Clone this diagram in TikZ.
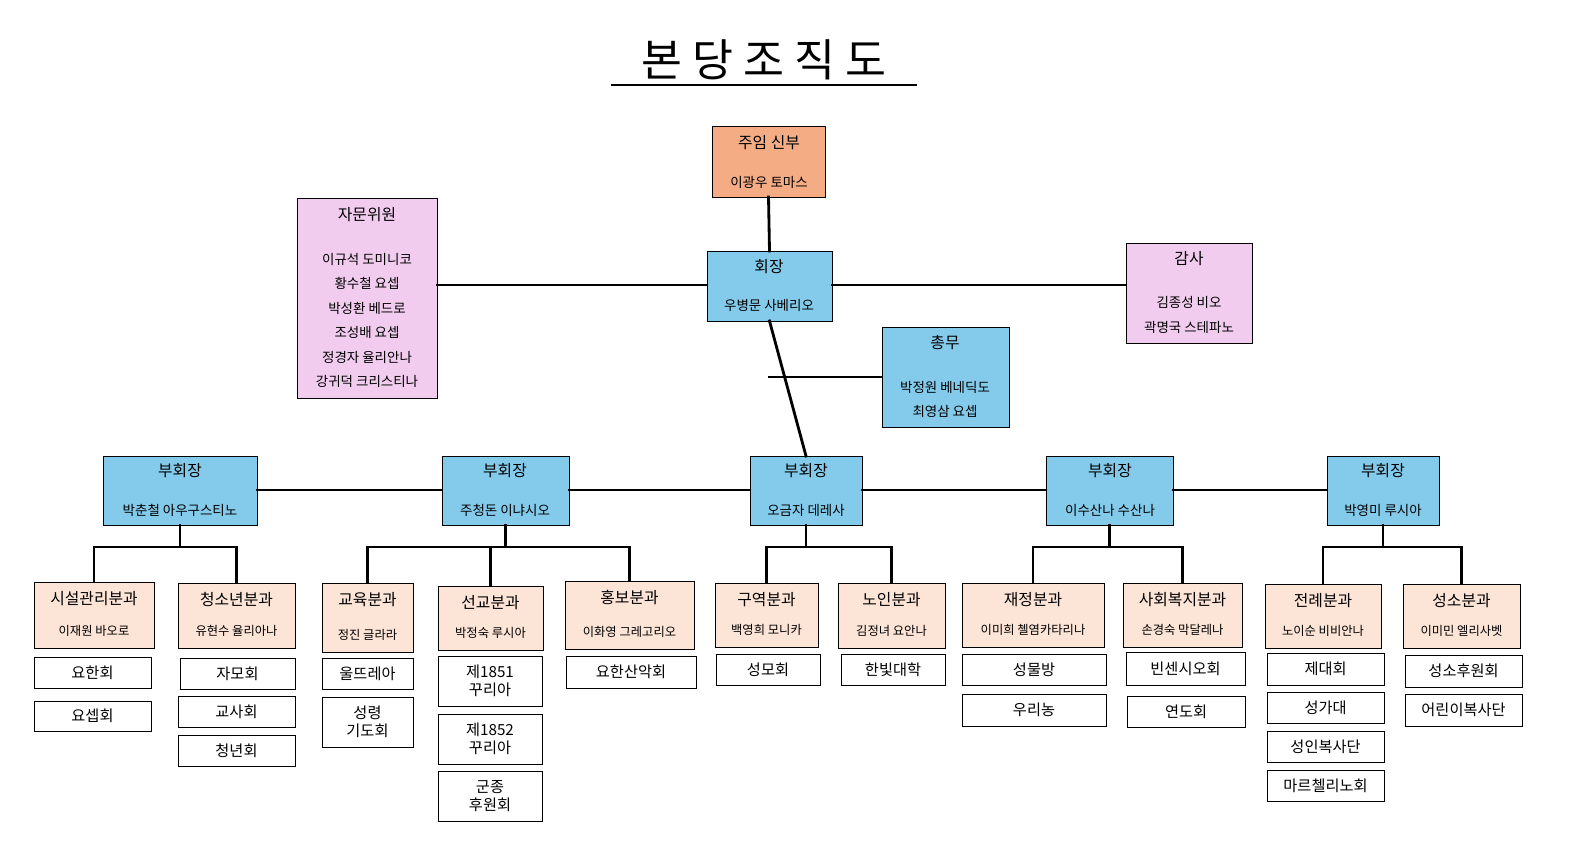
\documentclass[tikz,border=0pt]{standalone}
\usepackage{fontspec}
\setmainfont{Noto Sans CJK KR}
\definecolor{cOr}{HTML}{F4AC84}
\definecolor{cPk}{HTML}{F2CCEF}
\definecolor{cBl}{HTML}{84CBEB}
\definecolor{cPe}{HTML}{FCE4D6}
\tikzset{
  bxs/.style={draw=black,line width=0.6pt,inner sep=0pt,outer sep=0pt},
  orb/.style={bxs,fill=cOr}, pkb/.style={bxs,fill=cPk}, blb/.style={bxs,fill=cBl},
  peb/.style={bxs,fill=cPe}, whb/.style={bxs,fill=white},
  hd/.style={font=\fontsize{13.5}{15}\selectfont,inner sep=0pt},
  nm/.style={font=\fontsize{11.5}{13}\selectfont,inner sep=0pt},
  sn/.style={font=\fontsize{10.5}{12}\selectfont,inner sep=0pt},
  wt/.style={font=\fontsize{13}{15}\selectfont,inner sep=0pt,align=center},
  con/.style={line width=2.4pt,line cap=rect}
}
\newcommand\bx[6]{\node[#6,minimum width={(#4-#2)*0.03cm},minimum height={(#5-#3)*0.03cm}] (#1) at ({(#2+#4)/2},{(#3+#5)/2}) {};}
\begin{document}
\begin{tikzpicture}[x=0.03cm,y=-0.03cm]
\useasboundingbox[fill=white] (0,0) rectangle (1577,862);
% title
\node[font=\fontsize{38}{40}\selectfont,inner sep=0pt] (title) at (764,60) {본 당 조 직 도};
\draw[line width=1.3pt] (611,85) -- (917,85);
% top boxes
\bx{priest}{712}{126}{825}{197}{orb}
\node[hd] at (769,143) {주임 신부}; \node[nm] at (769,182) {이광우 토마스};
\bx{adv}{297}{198}{437}{398}{pkb}
\node[hd] at (367,215) {자문위원};
\node[nm] at (367,259) {이규석 도미니코};
\node[nm] at (367,283) {황수철 요셉};
\node[nm] at (367,308) {박성환 베드로};
\node[nm] at (367,332) {조성배 요셉};
\node[nm] at (367,357) {정경자 율리안나};
\node[nm] at (367,381) {강귀덕 크리스티나};
\bx{pres}{707}{251}{832}{321}{blb}
\node[hd] at (769,267) {회장}; \node[nm] at (769,305) {우병문 사베리오};
\bx{aud}{1126}{243}{1252}{343}{pkb}
\node[hd] at (1189,259) {감사}; \node[nm] at (1189,302) {김종성 비오}; \node[nm] at (1189,327) {곽명국 스테파노};
\bx{gen}{882}{327}{1009}{427}{blb}
\node[hd] at (945,343) {총무}; \node[nm] at (945,387) {박정원 베네딕도}; \node[nm] at (945,411) {최영삼 요셉};
% vice presidents
\bx{v1}{103}{456}{257}{525}{blb}
\bx{v2}{442}{456}{569}{525}{blb}
\bx{v3}{750}{456}{862}{525}{blb}
\bx{v4}{1046}{456}{1173}{525}{blb}
\bx{v5}{1327}{456}{1439}{525}{blb}
\foreach \n/\x/\s in {v1/180/박춘철 아우구스티노,v2/505/주청돈 이냐시오,v3/806/오금자 데레사,v4/1110/이수산나 수산나,v5/1383/박영미 루시아}{
  \node[hd] at (\x,471) {부회장}; \node[nm] at (\x,510) {\s};}
% departments
\bx{d1}{34}{582}{154}{648}{peb}
\bx{d2}{178}{583}{295}{648}{peb}
\bx{d3}{322}{583}{413}{652}{peb}
\bx{d4}{438}{586}{543}{650}{peb}
\bx{d5}{565}{581}{694}{649}{peb}
\bx{d6}{715}{583}{818}{647}{peb}
\bx{d7}{838}{583}{945}{648}{peb}
\bx{d8}{962}{583}{1104}{647}{peb}
\bx{d9}{1123}{583}{1242}{647}{peb}
\bx{d10}{1265}{584}{1381}{648}{peb}
\bx{d11}{1403}{584}{1520}{648}{peb}
\foreach \n/\h/\s in {d1/시설관리분과/이재원 바오로,d2/청소년분과/유현수 율리아나,d3/교육분과/정진 글라라,d4/선교분과/박정숙 루시아,d5/홍보분과/이화영 그레고리오,d6/구역분과/백영희 모니카,d7/노인분과/김정녀 요안나,d8/재정분과/이미희 첼염카타리나,d9/사회복지분과/손경숙 막달레나,d10/전례분과/노이순 비비안나,d11/성소분과/이미민 엘리사벳}{
  \node[hd] at ([yshift=-0.5cm]\n.north) {\h};
  \node[sn] at ([yshift=0.5cm]\n.south) {\s};}
% groups
\bx{g1}{34}{657}{151}{688}{whb} \node[wt] at (g1) {요한회};
\bx{g2}{34}{701}{151}{731}{whb} \node[wt] at (g2) {요셉회};
\bx{g3}{180}{658}{295}{689}{whb} \node[wt] at (g3) {자모회};
\bx{g4}{178}{696}{295}{727}{whb} \node[wt] at (g4) {교사회};
\bx{g5}{178}{735}{295}{766}{whb} \node[wt] at (g5) {청년회};
\bx{g6}{322}{658}{413}{689}{whb} \node[wt] at (g6) {울뜨레아};
\bx{g7}{322}{697}{413}{747}{whb} \node[wt] at (g7) {성령\\기도회};
\bx{g8}{438}{656}{542}{706}{whb} \node[wt] at (g8) {제1851\\꾸리아};
\bx{g9}{438}{714}{542}{764}{whb} \node[wt] at (g9) {제1852\\꾸리아};
\bx{g10}{438}{771}{542}{821}{whb} \node[wt] at (g10) {군종\\후원회};
\bx{g11}{566}{656}{696}{688}{whb} \node[wt] at (g11) {요한산악회};
\bx{g12}{716}{654}{820}{685}{whb} \node[wt] at (g12) {성모회};
\bx{g13}{841}{654}{945}{685}{whb} \node[wt] at (g13) {한빛대학};
\bx{g14}{962}{654}{1106}{685}{whb} \node[wt] at (g14) {성물방};
\bx{g15}{962}{694}{1106}{726}{whb} \node[wt] at (g15) {우리농};
\bx{g16}{1126}{652}{1245}{685}{whb} \node[wt] at (g16) {빈센시오회};
\bx{g17}{1127}{696}{1245}{727}{whb} \node[wt] at (g17) {연도회};
\bx{g18}{1267}{653}{1384}{685}{whb} \node[wt] at (g18) {제대회};
\bx{g19}{1267}{692}{1384}{723}{whb} \node[wt] at (g19) {성가대};
\bx{g20}{1267}{731}{1384}{762}{whb} \node[wt] at (g20) {성인복사단};
\bx{g21}{1267}{770}{1384}{801}{whb} \node[wt] at (g21) {마르첼리노회};
\bx{g22}{1405}{655}{1522}{687}{whb} \node[wt] at (g22) {성소후원회};
\bx{g23}{1405}{694}{1522}{726}{whb} \node[wt] at (g23) {어린이복사단};
% connectors
\draw[con] (priest.south) -- (pres.north);
\draw[con] (adv.east |- 0,285) -- (pres.west |- 0,285);
\draw[con] (pres.east |- 0,285) -- (aud.west |- 0,285);
\draw[con] (pres.south) -- (v3.north);
\coordinate (gj) at (769,377);
\draw[con] (gj) -- (gen.west |- gj);
\draw[con] (v1.east |- 0,490) -- (v2.west |- 0,490);
\draw[con] (v2.east |- 0,490) -- (v3.west |- 0,490);
\draw[con] (v3.east |- 0,490) -- (v4.west |- 0,490);
\draw[con] (v4.east |- 0,490) -- (v5.west |- 0,490);
\foreach \v/\a/\b in {v1/d1/d2,v2/d3/d5,v3/d6/d7,v4/d8/d9,v5/d10/d11}{
  \draw[con] (\v.south) -- (\v.south |- 0,547);
  \draw[con] (\a.north |- 0,547) -- (\b.north |- 0,547);
  \draw[con] (\a.north |- 0,547) -- (\a.north);
  \draw[con] (\b.north |- 0,547) -- (\b.north);}
\draw[con] (d4.north |- 0,547) -- (d4.north);
\end{tikzpicture}
\end{document}
